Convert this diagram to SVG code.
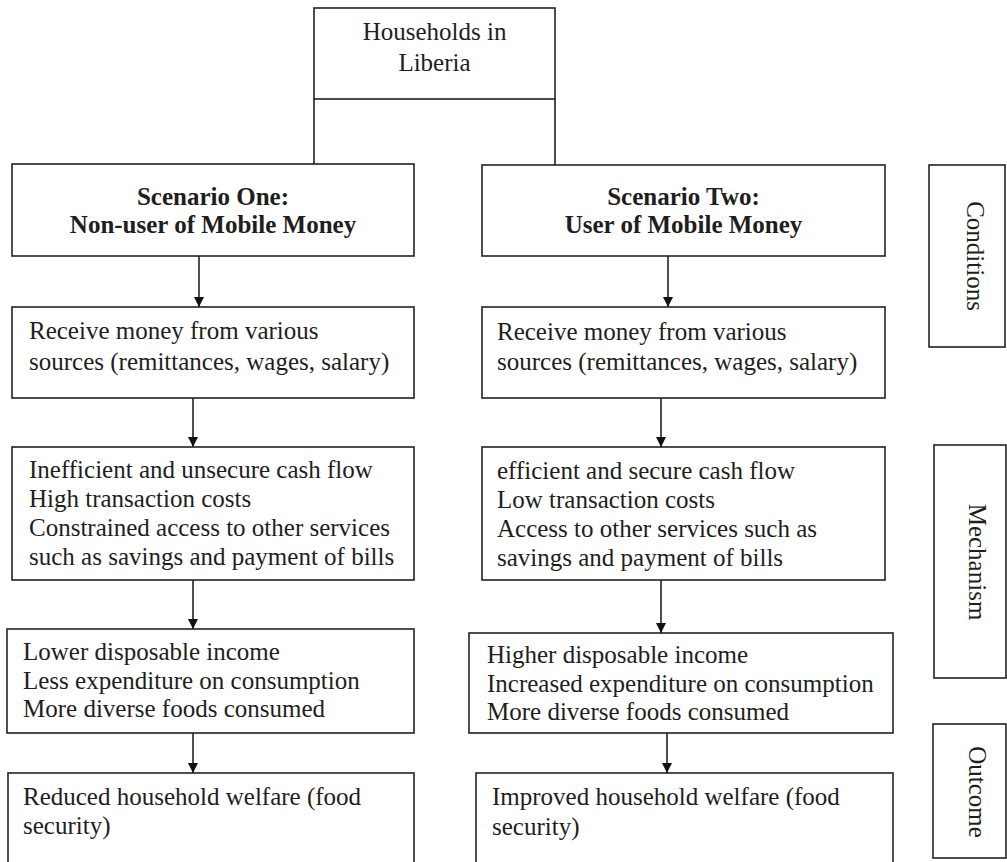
<svg xmlns="http://www.w3.org/2000/svg" width="1007" height="862" viewBox="0 0 1007 862">
<style>
.box{fill:#fff;stroke:#222;stroke-width:1.6}
.t{font-family:"Liberation Serif","Times New Roman",serif;font-size:25px;fill:#1e1e1e}
.b{font-weight:bold}
.c{text-anchor:middle}
.ln{stroke:#222;stroke-width:1.6;fill:none}
</style>
<defs>
<marker id="ah" markerUnits="userSpaceOnUse" markerWidth="11" markerHeight="11" refX="10" refY="5" orient="auto">
<path d="M0,0 L10,5 L0,10 z" fill="#111"/>
</marker>
</defs>
<rect width="1007" height="862" fill="#fff"/>

<g id="connectors">
<line class="ln" x1="314" y1="99" x2="314" y2="164"/>
<line class="ln" x1="555" y1="99" x2="555" y2="165"/>
<line class="ln" x1="199" y1="256" x2="199" y2="307" marker-end="url(#ah)"/>
<line class="ln" x1="193" y1="398" x2="193" y2="447" marker-end="url(#ah)"/>
<line class="ln" x1="193" y1="580" x2="193" y2="629" marker-end="url(#ah)"/>
<line class="ln" x1="193" y1="733" x2="193" y2="773" marker-end="url(#ah)"/>
<line class="ln" x1="668" y1="256" x2="668" y2="307" marker-end="url(#ah)"/>
<line class="ln" x1="661" y1="398" x2="661" y2="447" marker-end="url(#ah)"/>
<line class="ln" x1="661" y1="580" x2="661" y2="633" marker-end="url(#ah)"/>
<line class="ln" x1="667" y1="733" x2="667" y2="773" marker-end="url(#ah)"/>
</g>

<g id="households">
<rect class="box" x="314" y="8" width="241" height="91"/>
<text class="t c" x="434.5" y="40">Households in</text>
<text class="t c" x="434.5" y="71">Liberia</text>
</g>

<g id="scenario-one">
<rect class="box" x="12" y="164" width="402" height="92"/>
<text class="t b c" x="213" y="205">Scenario One:</text>
<text class="t b c" x="213" y="233">Non-user of Mobile Money</text>
</g>

<g id="scenario-two">
<rect class="box" x="482" y="165" width="403" height="91"/>
<text class="t b c" x="683.5" y="205">Scenario Two:</text>
<text class="t b c" x="683.5" y="233">User of Mobile Money</text>
</g>

<g id="receive-one">
<rect class="box" x="12" y="307" width="402" height="91"/>
<text class="t" x="29" y="339">Receive money from various</text>
<text class="t" x="29" y="370">sources (remittances, wages, salary)</text>
</g>

<g id="receive-two">
<rect class="box" x="482" y="307" width="403" height="91"/>
<text class="t" x="497" y="340">Receive money from various</text>
<text class="t" x="497" y="370">sources (remittances, wages, salary)</text>
</g>

<g id="mechanism-one">
<rect class="box" x="12" y="447" width="402" height="133"/>
<text class="t" x="29" y="478">Inefficient and unsecure cash flow</text>
<text class="t" x="29" y="507">High transaction costs</text>
<text class="t" x="29" y="536">Constrained access to other services</text>
<text class="t" x="29" y="565">such as savings and payment of bills</text>
</g>

<g id="mechanism-two">
<rect class="box" x="482" y="447" width="403" height="133"/>
<text class="t" x="497" y="479">efficient and secure cash flow</text>
<text class="t" x="497" y="508">Low transaction costs</text>
<text class="t" x="497" y="537">Access to other services such as</text>
<text class="t" x="497" y="566">savings and payment of bills</text>
</g>

<g id="income-one">
<rect class="box" x="7" y="629" width="407" height="104"/>
<text class="t" x="23" y="660">Lower disposable income</text>
<text class="t" x="23" y="689">Less expenditure on consumption</text>
<text class="t" x="23" y="717">More diverse foods consumed</text>
</g>

<g id="income-two">
<rect class="box" x="469" y="633" width="424" height="100"/>
<text class="t" x="487" y="663">Higher disposable income</text>
<text class="t" x="487" y="692">Increased expenditure on consumption</text>
<text class="t" x="487" y="720">More diverse foods consumed</text>
</g>

<g id="outcome-one">
<rect class="box" x="8" y="773" width="406" height="100"/>
<text class="t" x="23" y="805">Reduced household welfare (food</text>
<text class="t" x="23" y="834">security)</text>
</g>

<g id="outcome-two">
<rect class="box" x="476" y="773" width="417" height="100"/>
<text class="t" x="492" y="805">Improved household welfare (food</text>
<text class="t" x="492" y="835">security)</text>
</g>

<g id="label-conditions">
<rect class="box" x="929" y="165" width="76" height="182"/>
<text class="t c" transform="translate(967,256) rotate(90)" x="0" y="0">Conditions</text>
</g>

<g id="label-mechanism">
<rect class="box" x="934" y="445" width="72" height="233"/>
<text class="t c" transform="translate(969,562) rotate(90)" x="0" y="0">Mechanism</text>
</g>

<g id="label-outcome">
<rect class="box" x="933" y="724" width="73" height="134"/>
<text class="t c" transform="translate(969,792) rotate(90)" x="0" y="0">Outcome</text>
</g>
</svg>
